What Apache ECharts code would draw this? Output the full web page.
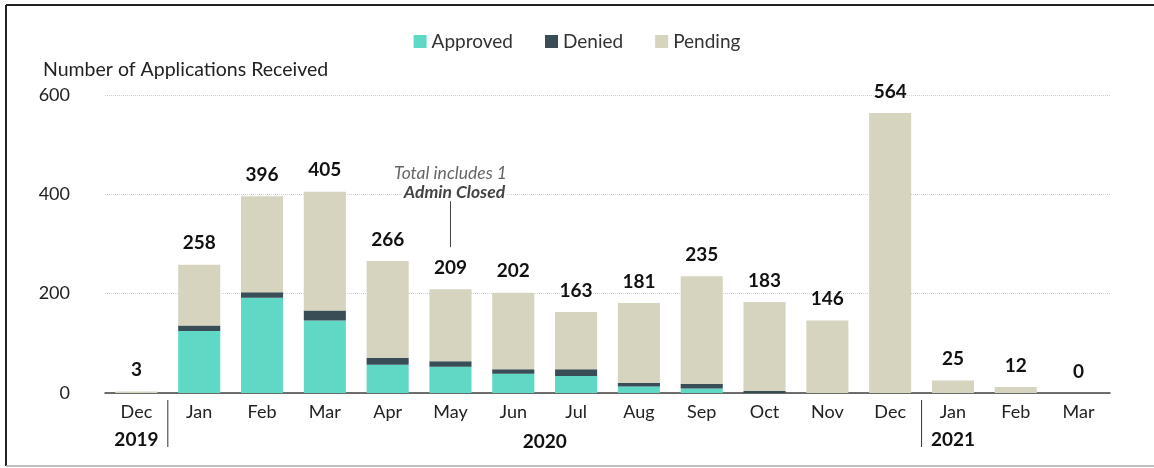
<!DOCTYPE html>
<html>
<head>
<meta charset="utf-8">
<script src="https://cdn.jsdelivr.net/npm/echarts@6/dist/echarts.min.js"></script>
<style>
  html, body { margin: 0; padding: 0; background: #fff; }
  #main { width: 1154px; height: 468px; }
</style>
</head>
<body>
<div id="main"></div>
<script>
// months shown on the x axis, with the year each one belongs to
var months = ['Dec', 'Jan', 'Feb', 'Mar', 'Apr', 'May', 'Jun', 'Jul', 'Aug', 'Sep', 'Oct', 'Nov', 'Dec', 'Jan', 'Feb', 'Mar'];
var years = ['2019', '2020', '2020', '2020', '2020', '2020', '2020', '2020', '2020', '2020', '2020', '2020', '2020', '2021', '2021', '2021'];

// stacked values
var approved = [0, 125, 192, 146, 57, 53, 39, 34, 13, 9, 0, 0, 0, 0, 0, 0];
var denied = [0, 11, 11, 20, 14, 11, 9, 14, 7, 9, 4, 0, 0, 0, 0, 0];
var pending = [3, 122, 193, 239, 195, 145, 154, 115, 161, 217, 179, 146, 564, 25, 12, 0];
var totals = [3, 258, 396, 405, 266, 209, 202, 163, 181, 235, 183, 146, 564, 25, 12, 0];

var yTicks = [0, 200, 400, 600];

var categories = months.map(function (m, i) { return m + ' ' + years[i]; });

var FONT = 'Lato, "Open Sans", sans-serif';

var chart = echarts.init(document.getElementById('main'));

var option = {
  animation: false,
  textStyle: { fontFamily: FONT },
  color: ['#5fd9c5', '#394d57', '#d6d4bf'],
  legend: {
    top: 27,
    left: 'center',
    itemWidth: 13,
    itemHeight: 13,
    itemGap: 32,
    icon: 'rect',
    textStyle: { fontSize: 19, color: '#333', fontFamily: FONT },
    data: ['Approved', 'Denied', 'Pending']
  },
  grid: { left: 105, right: 44, top: 95, bottom: 75 },
  xAxis: {
    type: 'category',
    data: categories,
    axisTick: { show: false },
    axisLine: { lineStyle: { color: '#404040', width: 1.5 } },
    axisLabel: {
      margin: 10,
      fontSize: 18,
      color: '#222',
      formatter: function (v) { return v.split(' ')[0]; }
    }
  },
  yAxis: {
    type: 'value',
    min: yTicks[0],
    max: yTicks[yTicks.length - 1],
    interval: 200,
    axisLine: { show: false },
    axisTick: { show: false },
    axisLabel: { fontSize: 18, color: '#222', margin: 35, align: 'right' },
    splitLine: { lineStyle: { color: '#cfcfcf', type: 'dotted' } }
  },
  series: [
    { name: 'Approved', type: 'bar', stack: 'all', barWidth: '67%', data: approved },
    { name: 'Denied', type: 'bar', stack: 'all', barWidth: '67%', data: denied },
    {
      name: 'Pending', type: 'bar', stack: 'all', barWidth: '67%', data: pending,
      label: {
        show: true,
        position: 'top',
        distance: 12,
        fontSize: 19,
        fontWeight: 'bold',
        color: '#111',
        fontFamily: FONT,
        formatter: function (p) { return totals[p.dataIndex]; }
      }
    }
  ]
};

chart.setOption(option);

// extra text and separators placed from the axis scale
function px(i) { return chart.convertToPixel({ xAxisIndex: 0 }, i); }
function py(v) { return chart.convertToPixel({ yAxisIndex: 0 }, v); }

var sep1 = (px(0) + px(1)) / 2;
var sep2 = (px(12) + px(13)) / 2;
var mayX = px(5);

chart.setOption({
  graphic: [
    // outer frame
    { type: 'line', shape: { x1: 6, y1: 5, x2: 1154, y2: 5 }, style: { stroke: '#222', lineWidth: 2 } },
    { type: 'line', shape: { x1: 6, y1: 5, x2: 6, y2: 466 }, style: { stroke: '#222', lineWidth: 2 } },
    { type: 'line', shape: { x1: 6, y1: 466, x2: 1154, y2: 466 }, style: { stroke: '#aaa', lineWidth: 1.5 } },
    {
      type: 'text', left: 43, top: 60,
      style: { text: 'Number of Applications Received', fontSize: 19.5, fill: '#222', fontFamily: FONT }
    },
    // year separators
    { type: 'line', shape: { x1: sep1, y1: 400, x2: sep1, y2: 447 }, style: { stroke: '#333', lineWidth: 1 } },
    { type: 'line', shape: { x1: sep2, y1: 400, x2: sep2, y2: 447 }, style: { stroke: '#333', lineWidth: 1 } },
    // year labels
    {
      type: 'text', x: px(0), y: 440,
      style: { text: years[0], align: 'center', verticalAlign: 'middle', fontSize: 19, fontWeight: 'bold', fill: '#111', fontFamily: FONT }
    },
    {
      type: 'text', x: (px(1) + px(12)) / 2, y: 442,
      style: { text: years[1], align: 'center', verticalAlign: 'middle', fontSize: 19, fontWeight: 'bold', fill: '#111', fontFamily: FONT }
    },
    {
      type: 'text', x: px(13), y: 440,
      style: { text: years[13], align: 'center', verticalAlign: 'middle', fontSize: 19, fontWeight: 'bold', fill: '#111', fontFamily: FONT }
    },
    // annotation on May
    { type: 'line', shape: { x1: mayX, y1: py(400) + 6, x2: mayX, y2: py(209) - 42 }, style: { stroke: '#444', lineWidth: 1 } },
    {
      type: 'text', x: mayX, y: py(400) - 21,
      style: { text: 'Total includes 1', align: 'center', verticalAlign: 'middle', fontSize: 17.5, fontStyle: 'italic', fill: '#666', fontFamily: FONT }
    },
    {
      type: 'text', x: mayX + 4, y: py(400) - 2,
      style: {
        text: 'Admin Closed', align: 'center', verticalAlign: 'middle', fontSize: 17.5, fontStyle: 'italic', fontWeight: 'bold',
        fill: '#444', fontFamily: FONT, backgroundColor: '#fff', padding: [0, 2]
      }
    }
  ]
});
</script>
</body>
</html>
